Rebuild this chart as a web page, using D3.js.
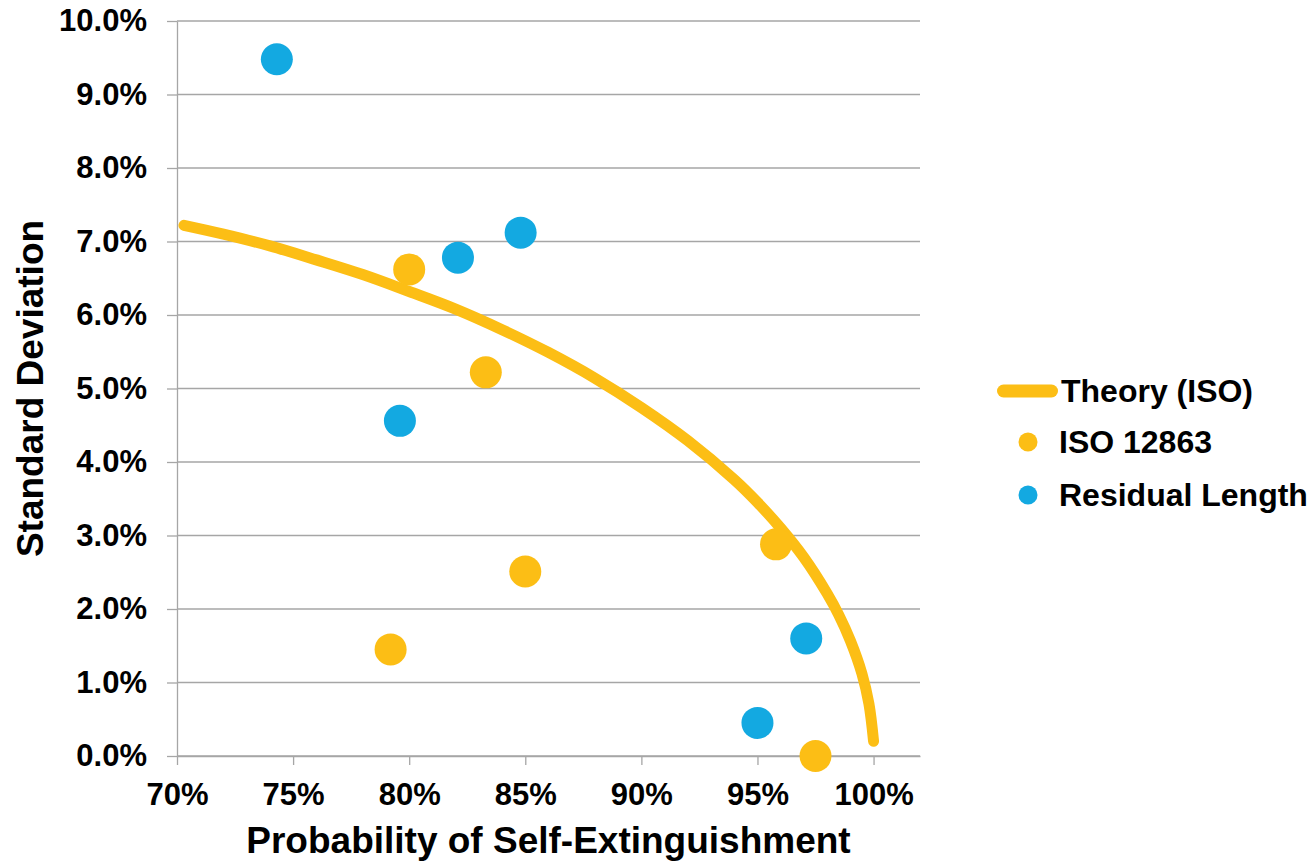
<!DOCTYPE html>
<html>
<head>
<meta charset="utf-8">
<script src="https://cdn.jsdelivr.net/npm/d3@7"></script>
<style>
  body { margin: 0; background: #fff; }
  text { font-family: "Liberation Sans", Arial, sans-serif; font-weight: bold; fill: #000; }
</style>
</head>
<body>
<div id="chart"></div>
<script>
// Values
const theoryP  = [0.703, 0.72, 0.74, 0.76, 0.78, 0.80, 0.82, 0.84, 0.86, 0.88, 0.90, 0.92, 0.94, 0.95, 0.96, 0.97, 0.98, 0.985, 0.99, 0.995, 0.998, 1.0];
const theorySD = [0.0722, 0.0710, 0.0694, 0.0675, 0.0655, 0.0632, 0.0608, 0.0580, 0.0549, 0.0514, 0.0474, 0.0429, 0.0376, 0.0345, 0.0310, 0.0270, 0.0221, 0.0192, 0.0157, 0.0112, 0.0071, 0.0020];

const isoP  = [0.800, 0.833, 0.850, 0.792, 0.958, 0.975];
const isoSD = [0.0662, 0.0522, 0.0251, 0.0145, 0.0288, 0.0000];

const resP  = [0.743, 0.821, 0.848, 0.796, 0.971, 0.950];
const resSD = [0.0948, 0.0678, 0.0712, 0.0456, 0.0160, 0.0045];

const xTicks = [0.70, 0.75, 0.80, 0.85, 0.90, 0.95, 1.00];
const yTicks = [0, 0.01, 0.02, 0.03, 0.04, 0.05, 0.06, 0.07, 0.08, 0.09, 0.10];

const WIDTH = 1311;
const HEIGHT = 863;
const PLOT = { left: 177, right: 920, top: 21, bottom: 756 };
const YELLOW = '#FCBE15';
const BLUE = '#13A9E1';
const GRID = '#a6a6a6';
const TICK_FONT = 31;
const LEGEND_FONT = 32;

const svg = d3.select('#chart')
  .append('svg')
  .attr('width', WIDTH)
  .attr('height', HEIGHT);

const x = d3.scaleLinear().domain([0.70, 1.02]).range([PLOT.left, PLOT.right]);
const y = d3.scaleLinear().domain([0, 0.10]).range([PLOT.bottom, PLOT.top]);

// horizontal gridlines
svg.append('g')
  .selectAll('line')
  .data(yTicks)
  .join('line')
  .attr('x1', PLOT.left)
  .attr('x2', PLOT.right)
  .attr('y1', d => y(d))
  .attr('y2', d => y(d))
  .attr('stroke', GRID)
  .attr('stroke-width', 1.3);

// y axis
const yAxis = svg.append('g')
  .attr('transform', `translate(${PLOT.left},0)`)
  .call(d3.axisLeft(y).tickValues(yTicks).tickFormat(d3.format('.1%')).tickSize(10).tickSizeOuter(0).tickPadding(20));

// x axis
const xAxis = svg.append('g')
  .attr('transform', `translate(0,${PLOT.bottom})`)
  .call(d3.axisBottom(x).tickValues(xTicks).tickFormat(d3.format('.0%')).tickSize(9).tickSizeOuter(0).tickPadding(18));

[yAxis, xAxis].forEach(a => {
  a.selectAll('path, line').attr('stroke', GRID).attr('stroke-width', 1.3);
  a.selectAll('text')
    .attr('font-size', TICK_FONT)
    .attr('font-family', '"Liberation Sans", Arial, sans-serif')
    .attr('font-weight', 'bold')
    .attr('fill', '#000');
});

// axis titles
svg.append('text')
  .attr('x', (PLOT.left + PLOT.right) / 2)
  .attr('y', 853)
  .attr('text-anchor', 'middle')
  .attr('font-size', 37)
  .text('Probability of Self-Extinguishment');

svg.append('text')
  .attr('transform', `translate(43,${(PLOT.top + PLOT.bottom) / 2}) rotate(-90)`)
  .attr('text-anchor', 'middle')
  .attr('font-size', 37)
  .text('Standard Deviation');

// theory curve
const theory = theoryP.map((p, i) => ({ p: p, sd: theorySD[i] }));
const line = d3.line()
  .x(d => x(d.p))
  .y(d => y(d.sd))
  .curve(d3.curveCatmullRom.alpha(0.5));

svg.append('path')
  .datum(theory)
  .attr('d', line)
  .attr('fill', 'none')
  .attr('stroke', YELLOW)
  .attr('stroke-width', 11)
  .attr('stroke-linecap', 'round')
  .attr('stroke-linejoin', 'round');

// scatter series
function drawPoints (ps, sds, color) {
  svg.append('g')
    .selectAll('circle')
    .data(ps.map((p, i) => ({ p: p, sd: sds[i] })))
    .join('circle')
    .attr('cx', d => x(d.p))
    .attr('cy', d => y(d.sd))
    .attr('r', 16)
    .attr('fill', color);
}
drawPoints(isoP, isoSD, YELLOW);
drawPoints(resP, resSD, BLUE);

// legend
const legend = svg.append('g');
legend.append('line')
  .attr('x1', 1003.5).attr('x2', 1051.5)
  .attr('y1', 391).attr('y2', 391)
  .attr('stroke', YELLOW)
  .attr('stroke-width', 13)
  .attr('stroke-linecap', 'round');
legend.append('text').attr('x', 1061).attr('y', 402).attr('font-size', LEGEND_FONT).text('Theory (ISO)');

legend.append('circle').attr('cx', 1028).attr('cy', 442).attr('r', 9.5).attr('fill', YELLOW);
legend.append('text').attr('x', 1059).attr('y', 453).attr('font-size', LEGEND_FONT).text('ISO 12863');

legend.append('circle').attr('cx', 1028).attr('cy', 495).attr('r', 9.5).attr('fill', BLUE);
legend.append('text').attr('x', 1059).attr('y', 506).attr('font-size', LEGEND_FONT).text('Residual Length');
</script>
</body>
</html>
